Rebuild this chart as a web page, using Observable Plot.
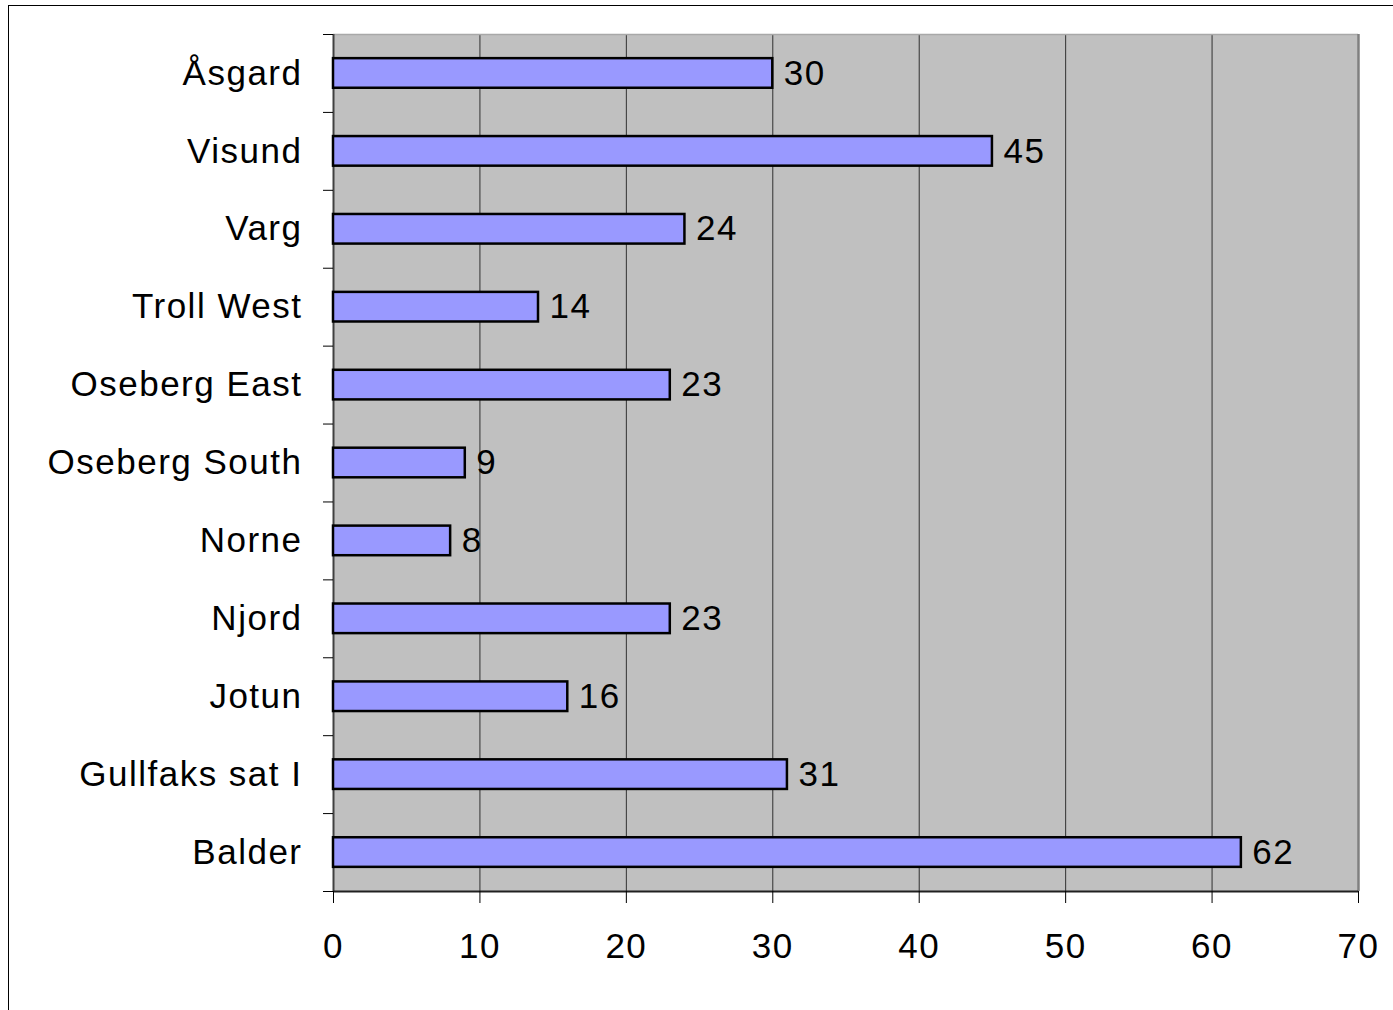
<!DOCTYPE html>
<html>
<head>
<meta charset="utf-8">
<script src="https://cdn.jsdelivr.net/npm/d3@7"></script>
<script src="https://cdn.jsdelivr.net/npm/@observablehq/plot@0.6"></script>
<style>
  html, body { margin: 0; padding: 0; background: #fff; }
  #wrap { position: relative; width: 1393px; height: 1010px; overflow: hidden; }
  #border { position: absolute; left: 8px; top: 5px; right: -2px; bottom: -2px; border-top: 1.5px solid #000; border-left: 1.5px solid #000; pointer-events: none; }
  #chart { position: absolute; left: 0; top: 0; }
</style>
</head>
<body>
<div id="wrap"><div id="chart"></div><div id="border"></div></div>
<script>
const categories = ["Åsgard", "Visund", "Varg", "Troll West", "Oseberg East", "Oseberg South", "Norne", "Njord", "Jotun", "Gullfaks sat I", "Balder"];
const values = [30, 45, 24, 14, 23, 9, 8, 23, 16, 31, 62];
const xTicks = [0, 10, 20, 30, 40, 50, 60, 70];

const data = categories.map((name, i) => ({name, value: values[i], i}));
const font = "'Liberation Sans', Arial, sans-serif";

const chart = Plot.plot({
  width: 1393,
  height: 1010,
  marginLeft: 333,
  marginRight: 35,
  marginTop: 34,
  marginBottom: 119,
  style: {fontFamily: font, fontSize: "35px", letterSpacing: "1.5px", background: "transparent", color: "#000"},
  x: {domain: [0, 70], ticks: xTicks, label: null},
  y: {domain: [0, categories.length], reverse: true, label: null},
  marks: [
    Plot.frame({fill: "#C0C0C0", stroke: null}),
    Plot.gridX(xTicks.slice(1, -1), {stroke: "#000", strokeOpacity: 0.75, strokeWidth: 1}),
    Plot.ruleY([0], {stroke: "#A8A8A8", strokeWidth: 1.5}),
    Plot.ruleX([70], {stroke: "#808080", strokeWidth: 2.5}),
    Plot.ruleX([0], {stroke: "#404040", strokeWidth: 2}),
    Plot.ruleY([categories.length], {stroke: "#202020", strokeWidth: 2}),
    Plot.rect(data, {x1: 0, x2: "value", y1: d => d.i + 0.31, y2: d => d.i + 0.69, fill: "#9999FF", stroke: "#000", strokeWidth: 2.5}),
    Plot.text(data, {x: "value", y: d => d.i + 0.5, text: d => String(d.value), textAnchor: "start", dx: 11, fontSize: 35, fill: "#000"}),
    Plot.axisY(d3.range(0, categories.length + 1), {tickSize: 10, tickFormat: () => "", stroke: "#000", label: null}),
    Plot.axisY(d3.range(0, categories.length).map(i => i + 0.5), {tickSize: 0, tickPadding: 31, tickFormat: v => categories[Math.floor(v)], fontSize: 35, fill: "#000", label: null}),
    Plot.axisX(xTicks, {tickSize: 12, tickPadding: 30, tickFormat: d => String(d), fontSize: 35, fill: "#000", stroke: "#000", label: null})
  ]
});
document.getElementById("chart").appendChild(chart);
</script>
</body>
</html>
